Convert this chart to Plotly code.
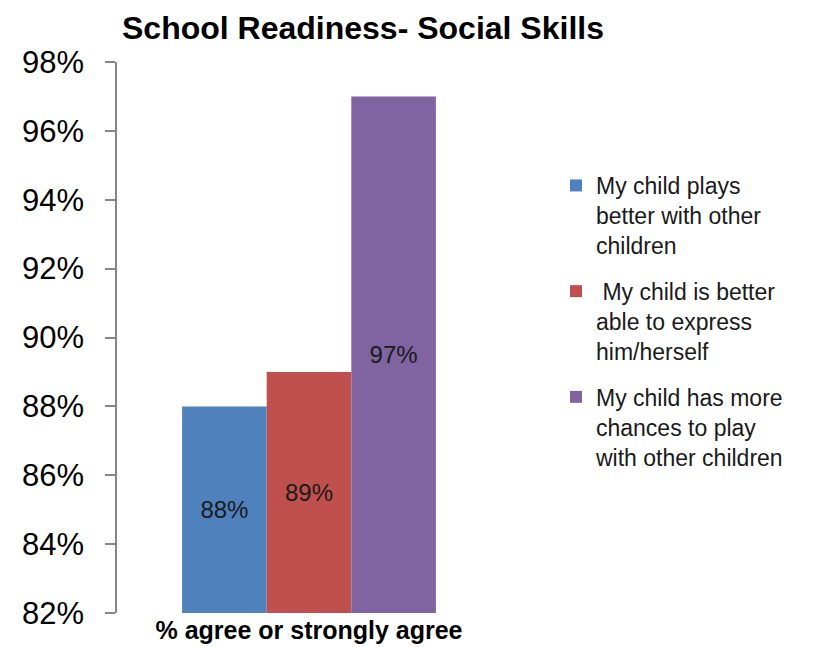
import plotly.graph_objects as go

category = ["% agree or strongly agree"]
series_names = [
    "My child plays<br>better with other<br>children",
    " My child is better<br>able to express<br>him/herself",
    "My child has more<br>chances to play<br>with other children",
]
series_values = [88, 89, 97]
series_colors = ["#4F81BD", "#C0504D", "#8064A2"]
y_min, y_max = 82, 98
y_ticks = [82, 84, 86, 88, 90, 92, 94, 96, 98]

fig = go.Figure()
for i, (name, val, col) in enumerate(zip(series_names, series_values, series_colors)):
    fig.add_trace(go.Bar(
        x=category, y=[val - y_min], base=[y_min], name=name,
        marker=dict(color=col, line=dict(width=0)),
        text=[f"{val}%"], textposition="inside", insidetextanchor="middle",
        textangle=0,
        textfont=dict(family="Liberation Sans, Arial", size=24, color="#1a1a1a"),
        hovertemplate=f"{val}%<extra></extra>",
        legendgroup=f"g{i}",
    ))

fig.update_layout(
    width=831, height=647,
    margin=dict(l=117, r=330, t=62, b=34),
    paper_bgcolor="white", plot_bgcolor="white",
    barmode="group", bargap=0.339, bargroupgap=0,
    font=dict(family="Liberation Sans, Arial", color="black"),
    title=dict(text="<b>School Readiness- Social Skills</b>",
               x=363/831, xref="container", xanchor="center",
               y=1-28/647, yref="container", yanchor="middle",
               font=dict(size=32, color="black")),
    legend=dict(x=556/831, xref="container", xanchor="left",
                y=1-164/647, yref="container", yanchor="top",
                valign="top",
                font=dict(size=23, color="#1a1a1a"),
                tracegroupgap=13, itemwidth=30, bgcolor="rgba(0,0,0,0)",
                maxheight=1),
    showlegend=True,
)
fig.update_yaxes(
    range=[y_min, y_max], tickvals=y_ticks, ticktext=[f"{v}%" for v in y_ticks],
    showgrid=False, zeroline=False,
    showline=True, linecolor="#868686", linewidth=1.5,
    ticks="outside", ticklen=10, tickcolor="#868686", tickwidth=1.5,
    tickfont=dict(size=31, color="black"), ticklabelstandoff=15,
    automargin=False,
)
fig.update_xaxes(
    type="category", showgrid=False, zeroline=False, showline=False,
    ticks="", tickfont=dict(size=25, color="black"),
    tickprefix="<b>", ticksuffix="</b>",
    automargin=False,
)

fig.write_html("out.html")
